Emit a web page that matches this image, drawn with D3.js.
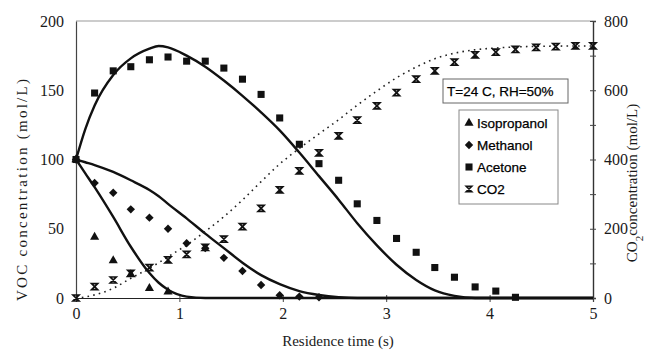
<!DOCTYPE html>
<html>
<head>
<meta charset="utf-8">
<script src="https://cdn.jsdelivr.net/npm/d3@7"></script>
<style>
	body { margin: 0; background: #fff; }
	svg { display: block; }
	.tick text { font-family: "Liberation Serif", "DejaVu Serif", serif; font-size: 16px; fill: #1a1a1a; }
	.axis-title { font-family: "Liberation Serif", serif; font-size: 15px; fill: #1a1a1a; }
	.legend text { font-family: "Liberation Sans", Arial, sans-serif; font-size: 13.5px; fill: #000;
		stroke: #000; stroke-width: 0.25px; }
</style>
</head>
<body>
<div id="chart"></div>
<script>
// measured points (residence time, s)
var sampleTimes = [0, 0.18, 0.36, 0.53, 0.71, 0.89, 1.07, 1.25, 1.43, 1.61, 1.79, 1.97,
	2.16, 2.35, 2.54, 2.72, 2.91, 3.10, 3.29, 3.47, 3.66, 3.86, 4.06, 4.25, 4.45, 4.64, 4.83, 5.0];
var isopropanolPts = [100, 44, 27, 17, 7, 4.5];
var methanolPts = [100, 83, 76, 64, 58, 50, 39.5, 36, 29, 19.5, 9.4, 2, 1, 0.5];
var acetonePts = [100, 148, 164, 167, 172, 174, 171, 171, 166, 158, 147, 130,
	111, 97, 85, 68, 56, 43, 33, 22, 15, 8, 5, 0.5];
var co2Pts = [0, 33, 52, 71, 88, 110, 126, 146, 170, 206, 259, 312,
	367, 419, 468, 514, 555, 593, 632, 656, 681, 702, 710, 718, 724, 726, 728, 728];

// model curves
var fitTimes = [0, 0.09, 0.18, 0.36, 0.53, 0.71, 0.8, 0.89, 1.07, 1.25, 1.43, 1.61, 1.79, 1.97,
	2.16, 2.35, 2.54, 2.72, 2.91, 3.10, 3.29, 3.47, 3.66, 3.86, 4.06, 4.5, 5.0];
var isopropanolFit = [100, 90, 80, 58.5, 37, 18, 11, 6, 1, 0, 0, 0, 0, 0,
	0, 0, 0, 0, 0, 0, 0, 0, 0, 0, 0, 0, 0];
var methanolFit = [100, 98, 96, 91, 85, 78, 73.5, 68, 57.5, 46.5, 36, 25.5, 16.5, 10,
	5, 2.2, 0.6, 0, 0, 0, 0, 0, 0, 0, 0, 0, 0];
var acetoneFit = [100, 122, 139, 161, 173, 180, 182, 181, 175, 167, 157, 146, 134, 121,
	105, 88, 71, 54, 38, 24, 13, 5.5, 1.5, 0, 0, 0, 0];
var co2Fit = [0, 3, 9, 28, 57, 86, 102, 119, 153, 192, 235, 283, 336, 387,
	432, 474, 515, 557, 598, 636, 667, 691, 707, 717, 722, 727, 728];

var seriesNames = ["Isopropanol", "Methanol", "Acetone", "CO2"];
var xTicks = [0, 1, 2, 3, 4, 5];
var yTicks = [0, 50, 100, 150, 200];
var y2Ticks = [0, 100, 200, 300, 400, 500, 600, 700, 800];
var y2Labels = [0, 200, 400, 600, 800];
var noteText = "T=24 C, RH=50%";

var width = 653, height = 351;
var plot = { left: 76, right: 593, top: 21, bottom: 298 };

var svg = d3.select("#chart").append("svg")
	.attr("width", width)
	.attr("height", height);

var xScale = d3.scaleLinear().domain([0, 5]).range([plot.left, plot.right]);
var yScale = d3.scaleLinear().domain([0, 200]).range([plot.bottom, plot.top]);
var y2Scale = d3.scaleLinear().domain([0, 800]).range([plot.bottom, plot.top]);

// frame
svg.append("line")
	.attr("x1", plot.left).attr("x2", plot.right)
	.attr("y1", plot.top).attr("y2", plot.top)
	.attr("stroke", "#999").attr("stroke-width", 1);

// axes
var xAxis = svg.append("g")
	.attr("class", "axis x")
	.attr("transform", "translate(0," + plot.bottom + ")")
	.call(d3.axisBottom(xScale).tickValues(xTicks).tickSize(4).tickPadding(6)
		.tickFormat(d3.format("d")));
xAxis.select(".domain").attr("stroke", "#222").attr("stroke-width", 1.2);
xAxis.selectAll(".tick line").attr("stroke", "#444").attr("y1", -3);

var yAxis = svg.append("g")
	.attr("class", "axis y left")
	.attr("transform", "translate(" + plot.left + ",0)")
	.call(d3.axisLeft(yScale).tickValues(yTicks).tickSize(0).tickPadding(12));
yAxis.select(".domain").attr("stroke", "#444").attr("stroke-width", 1.2);

var y2Axis = svg.append("g")
	.attr("class", "axis y right")
	.attr("transform", "translate(" + plot.right + ",0)")
	.call(d3.axisRight(y2Scale).tickValues(y2Ticks).tickSize(3).tickPadding(8)
		.tickFormat(function (d) { return y2Labels.indexOf(d) >= 0 ? d : ""; }));
y2Axis.select(".domain").attr("stroke", "#333").attr("stroke-width", 1.4);
y2Axis.selectAll(".tick line").attr("stroke", "#444").attr("x1", -3);

// axis titles
svg.append("text")
	.attr("class", "axis-title")
	.attr("x", 338)
	.attr("y", 346)
	.attr("text-anchor", "middle")
	.text("Residence time (s)");

svg.append("text")
	.attr("class", "axis-title")
	.attr("transform", "translate(27,190) rotate(-90)")
	.attr("text-anchor", "middle")
	.attr("font-size", "16px")
	.attr("textLength", 222)
	.attr("lengthAdjust", "spacing")
	.text("VOC concentration (mol/L)");

var rightTitle = svg.append("text")
	.attr("class", "axis-title")
	.attr("transform", "translate(637,183) rotate(-90)")
	.attr("text-anchor", "middle")
	.attr("font-size", "16px");
rightTitle.append("tspan").text("CO");
rightTitle.append("tspan").attr("baseline-shift", "sub").attr("font-size", "11px").text("2");
rightTitle.append("tspan").attr("baseline-shift", "0").text("concentration (mol/L)");

// model lines
function fitLine(scale) {
	return d3.line()
		.x(function (d, i) { return xScale(fitTimes[i]); })
		.y(function (d) { return scale(d); })
		.curve(d3.curveMonotoneX);
}

var lines = svg.append("g").attr("class", "fits");
[isopropanolFit, methanolFit, acetoneFit].forEach(function (vals) {
	lines.append("path")
		.datum(vals)
		.attr("d", fitLine(yScale))
		.attr("fill", "none")
		.attr("stroke", "#111")
		.attr("stroke-width", 2.4);
});
lines.append("path")
	.datum(co2Fit)
	.attr("d", fitLine(y2Scale))
	.attr("fill", "none")
	.attr("stroke", "#222")
	.attr("stroke-width", 1.6)
	.attr("stroke-dasharray", "1.6,4.2");

// markers
var shapes = {
	triangle: d3.symbol().type(d3.symbolTriangle).size(36),
	diamond: function () { return "M0,-4.2L4.2,0L0,4.2L-4.2,0Z"; },
	square: d3.symbol().type(d3.symbolSquare).size(50)
};
function hourglass(s) {
	return "M" + (-s) + "," + (-s) + "H" + s + "L" + (-s) + "," + s + "H" + s + "Z";
}

function drawPoints(vals, scale, cls, pathFn) {
	svg.append("g").attr("class", cls)
		.selectAll("path")
		.data(vals).enter()
		.append("path")
		.attr("transform", function (d, i) {
			return "translate(" + xScale(sampleTimes[i]) + "," + scale(d) + ")";
		})
		.attr("d", pathFn)
		.attr("fill", "#111");
}
drawPoints(isopropanolPts, yScale, "isopropanol", shapes.triangle);
drawPoints(methanolPts, yScale, "methanol", shapes.diamond);
drawPoints(acetonePts, yScale, "acetone", shapes.square);
svg.append("g").attr("class", "co2")
	.selectAll("path")
	.data(co2Pts).enter()
	.append("path")
	.attr("transform", function (d, i) {
		return "translate(" + xScale(sampleTimes[i]) + "," + y2Scale(d) + ")";
	})
	.attr("d", hourglass(3))
	.attr("fill", "none")
	.attr("stroke", "#111")
	.attr("stroke-width", 1.7);

// note box
var note = svg.append("g").attr("class", "legend");
note.append("rect")
	.attr("x", 443).attr("y", 79).attr("width", 125).attr("height", 24)
	.attr("fill", "#fff").attr("stroke", "#666").attr("stroke-width", 1);
note.append("text")
	.attr("x", 447).attr("y", 96)
	.text(noteText);

// legend
var legend = svg.append("g").attr("class", "legend");
legend.append("rect")
	.attr("x", 459).attr("y", 110).attr("width", 99).attr("height", 94)
	.attr("fill", "#fff").attr("stroke", "#888").attr("stroke-width", 1);
var legendMarks = [shapes.triangle, shapes.diamond, shapes.square, null];
seriesNames.forEach(function (name, i) {
	var cy = 123 + i * 22;
	var mark = legend.append("path")
		.attr("transform", "translate(469," + cy + ")");
	if (legendMarks[i]) {
		mark.attr("d", legendMarks[i]).attr("fill", "#111");
	} else {
		mark.attr("d", hourglass(2.8)).attr("fill", "none")
			.attr("stroke", "#111").attr("stroke-width", 1.6);
	}
	legend.append("text")
		.attr("x", 477).attr("y", cy + 5)
		.text(name);
});
</script>
</body>
</html>
